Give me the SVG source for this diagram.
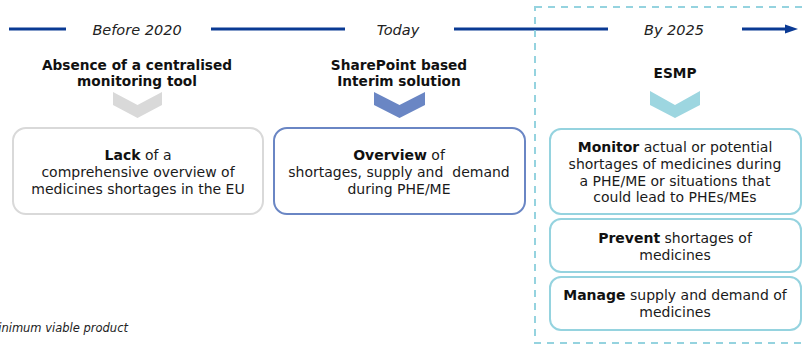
<svg xmlns="http://www.w3.org/2000/svg" width="805" height="345" viewBox="0 0 805 345">
  <style>
    .tl { stroke: #0a3a94; stroke-width: 3; fill: none; }
    .period { font-family: "DejaVu Sans", Verdana, sans-serif; font-style: italic; font-size: 14.5px; fill: #222; text-anchor: middle; }
    .head { font-family: "DejaVu Sans", Verdana, sans-serif; font-weight: bold; font-size: 13.7px; fill: #111; text-anchor: middle; }
    .body { font-family: "DejaVu Sans", Verdana, sans-serif; font-size: 14px; fill: #1a1a1a; text-anchor: middle; }
    .body .b { font-weight: bold; fill: #111; }
    .note { font-family: "DejaVu Sans", Verdana, sans-serif; font-style: italic; font-size: 11.5px; fill: #222; text-anchor: end; }
    .card { fill: #fff; stroke-width: 2; }
    .gray { stroke: #d9d9d9; }
    .blue { stroke: #6a86c4; }
    .cyan { stroke: #95d3df; }
  </style>

  <!-- timeline -->
  <g id="connectors">
    <line class="tl" x1="9" y1="29" x2="66" y2="29"/>
    <line class="tl" x1="211" y1="29" x2="345" y2="29"/>
    <line class="tl" x1="454" y1="29" x2="608" y2="29"/>
    <line class="tl" x1="742" y1="29" x2="788" y2="29"/>
    <polygon points="785,24.5 798,29 785,33.5" fill="#0a3a94"/>
  </g>

  <!-- future scope frame -->
  <rect x="535" y="7" width="290" height="336" fill="none" stroke="#95d3df" stroke-width="2" stroke-dasharray="7 6"/>

  <text class="period" x="137" y="35">Before 2020</text>
  <text class="period" x="398" y="35">Today</text>
  <text class="period" x="674" y="35">By 2025</text>

  <!-- Before 2020 -->
  <g id="stage-before">
    <text class="head" x="137" y="70">Absence of a centralised</text>
    <text class="head" x="137" y="86">monitoring tool</text>
    <polygon points="113,92 137.5,105 162,92 162,105 137.5,118 113,105" fill="#d9d9d9"/>
  </g>
  <g id="card-lack">
    <rect class="card gray" x="13" y="128" width="250" height="86" rx="13"/>
    <text class="body" x="138" y="160"><tspan class="b">Lack</tspan> of a</text>
    <text class="body" x="138" y="177">comprehensive overview of</text>
    <text class="body" x="138" y="194">medicines shortages in the EU</text>
  </g>

  <!-- Today -->
  <g id="stage-today">
    <text class="head" x="399" y="70">SharePoint based</text>
    <text class="head" x="399" y="86">Interim solution</text>
    <polygon points="374,92 399.5,105 425,92 425,105 399.5,118 374,105" fill="#6a86c4"/>
  </g>
  <g id="card-overview">
    <rect class="card blue" x="274" y="128" width="251" height="86" rx="13"/>
    <text class="body" x="399" y="160"><tspan class="b">Overview</tspan> of</text>
    <text class="body" x="399" y="177" xml:space="preserve">shortages, supply and  demand</text>
    <text class="body" x="399" y="194">during PHE/ME</text>
  </g>

  <!-- By 2025 -->
  <g id="stage-esmp">
    <text class="head" x="675" y="78">ESMP</text>
    <polygon points="650,91 675,105 700,91 700,105 675,118 650,105" fill="#9dd6e0"/>
  </g>
  <g id="card-monitor">
    <rect class="card cyan" x="550" y="129" width="251" height="85" rx="11"/>
    <text class="body" x="675" y="152"><tspan class="b">Monitor</tspan> actual or potential</text>
    <text class="body" x="675" y="169">shortages of medicines during</text>
    <text class="body" x="675" y="185.5">a PHE/ME or situations that</text>
    <text class="body" x="675" y="202">could lead to PHEs/MEs</text>
  </g>
  <g id="card-prevent">
    <rect class="card cyan" x="550" y="219" width="251" height="53" rx="11"/>
    <text class="body" x="675" y="243"><tspan class="b">Prevent</tspan> shortages of</text>
    <text class="body" x="675" y="259.5">medicines</text>
  </g>
  <g id="card-manage">
    <rect class="card cyan" x="550" y="277" width="251" height="53" rx="11"/>
    <text class="body" x="675" y="300"><tspan class="b">Manage</tspan> supply and demand of</text>
    <text class="body" x="675" y="317">medicines</text>
  </g>

  <!-- footnote -->
  <text class="note" x="128" y="332">minimum viable product</text>
</svg>
